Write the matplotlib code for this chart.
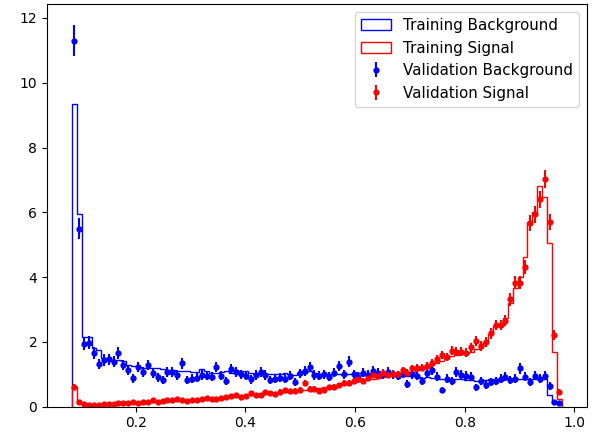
import numpy as np
import matplotlib
matplotlib.use("Agg")
import matplotlib.pyplot as plt

# bin edges of the classifier-output histogram (100 bins)
x_min, x_max, n_bins = 0.0835, 0.977, 100

train_bkg = [9.33, 5.95, 2.15, 2.15, 1.8, 1.75, 1.5, 1.45, 1.45, 1.44,
             1.4, 1.3, 1.25, 1.23, 1.2, 1.18, 1.18, 1.18, 1.15, 1.12,
             1.12, 1.1, 1.1, 1.1, 1.08, 1.08, 1.15, 1.1, 1.05, 1.05,
             1.08, 1.1, 1.05, 1.12, 1.1, 1.1, 1.05, 1.02, 1.05, 1.0,
             1.02, 1.0, 1.0, 1.05, 1.0, 0.98, 1.05, 1.05, 1.1, 1.05,
             1.02, 1.0, 1.02, 1.05, 1.0, 0.98, 1.02, 1.0, 1.05, 0.98,
             1.0, 1.02, 1.0, 0.98, 1.0, 1.02, 0.95, 0.98, 0.95, 0.95,
             0.92, 0.9, 0.92, 0.9, 0.88, 0.85, 0.85, 0.85, 0.85, 0.85,
             0.82, 0.82, 0.8, 0.8, 0.82, 0.85, 0.85, 0.85, 0.85, 0.85,
             0.85, 0.85, 0.85, 0.85, 0.85, 0.85, 0.85, 0.36, 0.15, 0.08]

train_sig = [0.62, 0.15, 0.08, 0.06, 0.05, 0.06, 0.06, 0.07, 0.08, 0.1,
             0.1, 0.12, 0.12, 0.13, 0.14, 0.14, 0.15, 0.16, 0.17, 0.18,
             0.19, 0.2, 0.2, 0.21, 0.22, 0.23, 0.24, 0.25, 0.26, 0.27,
             0.28, 0.3, 0.31, 0.32, 0.34, 0.35, 0.36, 0.37, 0.38, 0.4,
             0.41, 0.42, 0.44, 0.45, 0.47, 0.48, 0.5, 0.52, 0.54, 0.56,
             0.58, 0.6, 0.62, 0.64, 0.66, 0.69, 0.72, 0.75, 0.78, 0.81,
             0.84, 0.87, 0.9, 0.93, 0.96, 0.98, 1.0, 1.02, 1.05, 1.08,
             1.12, 1.18, 1.22, 1.28, 1.35, 1.42, 1.5, 1.55, 1.6, 1.62,
             1.65, 1.7, 1.78, 1.88, 2.0, 2.25, 2.5, 2.55, 2.75, 3.2,
             3.65, 4.0, 4.63, 5.71, 6.0, 6.8, 6.48, 5.06, 1.69, 0.24]

valid_bkg = [11.3, 5.5, 1.95, 1.97, 1.67, 1.32, 1.44, 1.46, 1.39, 1.65,
             1.29, 1.13, 0.88, 1.23, 1.08, 1.29, 1.03, 0.91, 0.82, 1.08,
             1.08, 0.98, 1.34, 0.82, 0.87, 0.9, 0.98, 0.95, 0.93, 1.23,
             0.95, 0.8, 1.15, 1.08, 1.0, 0.95, 0.84, 0.98, 1.08, 0.98,
             0.82, 0.87, 0.9, 0.87, 0.95, 0.77, 1.03, 1.11, 1.23, 0.98,
             0.95, 1.0, 0.92, 1.05, 1.26, 1.0, 1.39, 1.0, 0.93, 1.05,
             0.98, 1.1, 1.05, 1.0, 1.08, 1.0, 0.95, 1.02, 0.7, 1.0,
             0.95, 0.8, 1.05, 1.13, 0.93, 0.51, 0.87, 0.8, 1.08, 0.98,
             0.95, 0.93, 0.6, 0.8, 0.67, 0.77, 0.8, 0.87, 0.93, 0.82,
             0.87, 1.18, 0.93, 0.77, 0.95, 0.87, 0.95, 0.64, 0.15, 0.1]

valid_sig = [0.62, 0.15, 0.08, 0.06, 0.05, 0.06, 0.07, 0.07, 0.08, 0.1,
             0.12, 0.1, 0.14, 0.12, 0.16, 0.14, 0.2, 0.15, 0.18, 0.2,
             0.22, 0.24, 0.2, 0.18, 0.2, 0.21, 0.24, 0.26, 0.25, 0.24,
             0.28, 0.31, 0.34, 0.37, 0.3, 0.33, 0.41, 0.37, 0.36, 0.44,
             0.42, 0.4, 0.46, 0.51, 0.48, 0.5, 0.53, 0.72, 0.56, 0.55,
             0.5, 0.53, 0.6, 0.62, 0.66, 0.72, 0.72, 0.78, 0.84, 0.8,
             0.9, 0.98, 0.95, 1.05, 0.98, 1.02, 1.0, 1.12, 1.05, 1.18,
             1.2, 1.21, 1.26, 1.36, 1.46, 1.6, 1.54, 1.73, 1.7, 1.7,
             1.67, 1.83, 2.03, 1.87, 2.0, 2.26, 2.52, 2.52, 2.65, 3.31,
             3.83, 3.83, 4.3, 5.68, 5.94, 6.4, 7.03, 5.69, 2.2, 0.46]

# Poisson-error scale factors (err = k * sqrt(density))
k_bkg, k_sig = 0.143, 0.105

edges = np.linspace(x_min, x_max, n_bins + 1)
centers = 0.5 * (edges[:-1] + edges[1:])
vb = np.array(valid_bkg)
vs = np.array(valid_sig)

fig = plt.figure(figsize=(5.98, 4.34), dpi=100)
ax = fig.add_axes([0.0786, 0.0629, 0.903, 0.927])

ax.hist(centers, bins=edges, weights=train_bkg, histtype='step',
        color='b', label='Training Background')
ax.hist(centers, bins=edges, weights=train_sig, histtype='step',
        color='r', label='Training Signal')
ax.errorbar(centers, vb, yerr=k_bkg * np.sqrt(vb), fmt='.', color='b',
            markersize=7, label='Validation Background')
ax.errorbar(centers, vs, yerr=k_sig * np.sqrt(vs), fmt='.', color='r',
            markersize=7, label='Validation Signal')

ax.set_xlim(0.038, 1.023)
ax.set_ylim(0, 12.42)
ax.set_yticks([0, 2, 4, 6, 8, 10, 12])
ax.set_xticks([0.2, 0.4, 0.6, 0.8, 1.0])
ax.legend(loc='upper right', fontsize=10.9)

fig.savefig('out.png', dpi=100)
